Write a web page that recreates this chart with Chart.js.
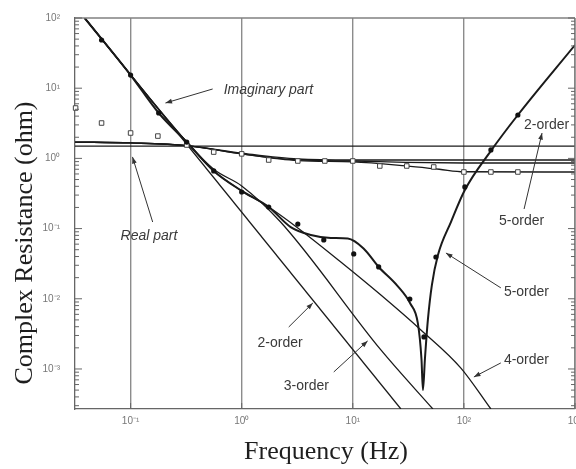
<!DOCTYPE html>
<html>
<head>
<meta charset="utf-8">
<script src="https://cdn.jsdelivr.net/npm/chart.js@4.4.1/dist/chart.umd.min.js"></script>
<style>body{margin:0;background:#fff}</style>
</head>
<body>
<canvas id="c" width="576" height="469"></canvas>
<script>
// axis ranges (log scales)
const xMin = 0.0316, xMax = 1000;
const yMin = 2.69e-4, yMax = 100;
const xTicks = [0.1, 1, 10, 100, 1000];
const yTicks = [1e-3, 1e-2, 1e-1, 1, 10, 100];

// measured imaginary part (dots)
const imagFreq = [0.0548, 0.1, 0.179, 0.320, 0.560, 1.0, 1.75, 3.20, 5.48, 10.2, 17.1, 32.6, 43.7, 56.0, 102, 175, 306];
const imagMeas = [48.6, 15.4, 4.43, 1.71, 0.662, 0.332, 0.203, 0.116, 0.0689, 0.0435, 0.0284, 0.00993, 0.00286, 0.0394, 0.392, 1.32, 4.15];

// measured real part (squares)
const realFreq = [0.032, 0.0548, 0.1, 0.176, 0.320, 0.560, 1.0, 1.75, 3.20, 5.6, 10, 17.5, 30.6, 53.5, 100, 175, 306];
const realMeas = [5.22, 3.19, 2.30, 2.08, 1.55, 1.23, 1.16, 0.948, 0.918, 0.918, 0.918, 0.779, 0.779, 0.754, 0.640, 0.640, 0.640];

// fitted real part
const re2Freq = [0.0316, 1000];
const re2 = [1.50, 1.50];
const re3Freq = [0.0316, 0.1, 0.32, 1.0, 3.2, 10, 1000];
const re3 = [1.71, 1.66, 1.52, 1.19, 0.98, 0.948, 0.948];
const re4Freq = [0.0316, 0.1, 0.32, 1.0, 3.2, 10, 30, 100, 1000];
const re4 = [1.71, 1.66, 1.52, 1.16, 0.95, 0.918, 0.875, 0.86, 0.86];
const re5Freq = [0.0316, 0.1, 0.32, 1.0, 3.2, 10, 30, 60, 100, 1000];
const re5 = [1.71, 1.66, 1.52, 1.16, 0.93, 0.89, 0.78, 0.70, 0.645, 0.64];

// fitted imaginary part
const im2Freq = [0.0386, 27.1];
const im2 = [100, 0.000269];
const im3Freq = [0.0386, 0.320, 0.56, 1.0, 2.24, 17.9, 52.6];
const im3 = [100, 1.71, 0.70, 0.405, 0.124, 0.00187, 0.000269];
const im4Freq = [0.0386, 0.320, 0.56, 1.0, 1.75, 3.2, 7.8, 17.9, 41.0, 94, 175];
const im4 = [100, 1.71, 0.662, 0.345, 0.203, 0.102, 0.0334, 0.0113, 0.0036, 0.00103, 0.000269];
const im5Freq = [0.0386, 0.1, 0.179, 0.32, 0.56, 1.0, 1.75, 2.76, 4.19, 6.34, 9.02, 12.5, 17.1, 25, 33, 38.5, 41.5, 42.8, 44.6, 47.4, 51.5, 58.4, 76.4, 102, 175, 306, 1000];
const im5 = [100, 15.4, 4.43, 1.71, 0.662, 0.345, 0.203, 0.105, 0.081, 0.0735, 0.0720, 0.052, 0.0284, 0.0155, 0.0085, 0.0045, 0.0014, 0.000502, 0.0014, 0.005, 0.0157, 0.0421, 0.124, 0.355, 1.28, 4.15, 41.2];

// annotation labels, anchored in data units
const labels = [
    {text: 'Imaginary part', x: 0.689, y: 9.42, italic: true},
    {text: 'Real part', x: 0.0813, y: 0.0785, italic: true},
    {text: '2-order', x: 1.39, y: 0.00234},
    {text: '3-order', x: 2.39, y: 0.000573},
    {text: '4-order', x: 229, y: 0.00134},
    {text: '5-order', x: 229, y: 0.0125},
    {text: '2-order', x: 348, y: 2.99},
    {text: '5-order', x: 207, y: 0.128}
];
const arrows = [
    [0.548, 9.74, 0.206, 6.15],
    [0.158, 0.124, 0.104, 1.05],
    [2.65, 0.00396, 4.37, 0.00871],
    [6.74, 0.000906, 13.6, 0.00251],
    [215, 0.00122, 123, 0.000769],
    [215, 0.0143, 68.9, 0.0449],
    [348, 0.190, 505, 2.30]
];

const pts = (xs, ys) => xs.map((x, i) => ({x: x, y: ys[i]}));
const sup = {'-': '\u207B', '0': '\u2070', '1': '\u00B9', '2': '\u00B2', '3': '\u00B3'};
const powLabel = v => '10' + String(Math.round(Math.log10(v))).split('').map(c => sup[c]).join('');

function fitLine(xs, ys, width, smooth) {
    return {
        data: pts(xs, ys),
        showLine: true,
        borderColor: '#1a1a1a',
        borderWidth: width,
        pointRadius: 0,
        cubicInterpolationMode: smooth ? 'monotone' : 'default',
        tension: 0
    };
}

const decor = {
    id: 'decor',
    afterDatasetsDraw(chart) {
        const {ctx, chartArea: a, scales: {x, y}} = chart;
        ctx.save();
        const seg = (x1, y1, x2, y2) => { ctx.beginPath(); ctx.moveTo(x1, y1); ctx.lineTo(x2, y2); ctx.stroke(); };
        // top / right frame
        ctx.strokeStyle = '#808080';
        ctx.lineWidth = 1.3;
        seg(a.left, a.top, a.right, a.top);
        seg(a.right, a.top, a.right, a.bottom);
        // inward y ticks, left and right
        ctx.strokeStyle = '#666';
        ctx.lineWidth = 1;
        for (let d = -4; d <= 2; d++) {
            for (let m = 1; m < 10; m++) {
                const v = m * Math.pow(10, d);
                if (v < yMin || v > yMax) continue;
                const py = y.getPixelForValue(v);
                const len = m === 1 ? 7 : 4;
                seg(a.left, py, a.left + len, py);
                seg(a.right, py, a.right - len, py);
            }
        }
        // x major ticks
        xTicks.forEach(v => {
            const px = x.getPixelForValue(v);
            seg(px, a.bottom, px, a.bottom - 6);
        });
        // arrows
        ctx.strokeStyle = '#333';
        ctx.fillStyle = '#333';
        ctx.lineWidth = 1;
        arrows.forEach(r => {
            const x1 = x.getPixelForValue(r[0]), y1 = y.getPixelForValue(r[1]);
            const x2 = x.getPixelForValue(r[2]), y2 = y.getPixelForValue(r[3]);
            seg(x1, y1, x2, y2);
            const ang = Math.atan2(y2 - y1, x2 - x1);
            ctx.beginPath();
            ctx.moveTo(x2, y2);
            ctx.lineTo(x2 - 7 * Math.cos(ang - 0.35), y2 - 7 * Math.sin(ang - 0.35));
            ctx.lineTo(x2 - 7 * Math.cos(ang + 0.35), y2 - 7 * Math.sin(ang + 0.35));
            ctx.closePath();
            ctx.fill();
        });
        // text labels
        ctx.fillStyle = '#3a3a3a';
        ctx.textAlign = 'left';
        ctx.textBaseline = 'middle';
        labels.forEach(l => {
            ctx.font = (l.italic ? 'italic ' : '') + '14px "Liberation Sans", Arial, sans-serif';
            ctx.fillText(l.text, x.getPixelForValue(l.x), y.getPixelForValue(l.y));
        });
        ctx.restore();
    },
    afterDraw(chart) {
        const ctx = chart.ctx;
        ctx.save();
        ctx.fillStyle = '#1e1e1e';
        ctx.textAlign = 'center';
        ctx.textBaseline = 'middle';
        ctx.font = '26px "Liberation Serif", "Times New Roman", serif';
        ctx.fillText('Frequency (Hz)', 326, 452);
        ctx.translate(25, 243);
        ctx.rotate(-Math.PI / 2);
        ctx.font = '26px "Liberation Serif", "Times New Roman", serif';
        ctx.fillText('Complex Resistance (ohm)', 0, 0);
        ctx.restore();
    }
};

new Chart(document.getElementById('c').getContext('2d'), {
    type: 'scatter',
    data: {
        datasets: [
            {
                data: pts(imagFreq, imagMeas),
                pointStyle: 'circle',
                pointRadius: 2.6,
                backgroundColor: '#111',
                borderColor: '#111',
                borderWidth: 0
            },
            {
                data: pts(realFreq, realMeas),
                pointStyle: 'rect',
                pointRadius: 3.2,
                backgroundColor: '#fff',
                borderColor: '#444',
                borderWidth: 1,
                clip: false
            },
            fitLine(im5Freq, im5, 2, true),
            fitLine(im4Freq, im4, 1.3, true),
            fitLine(im3Freq, im3, 1.3, true),
            fitLine(im2Freq, im2, 1.3, false),
            fitLine(re5Freq, re5, 1.3, true),
            fitLine(re4Freq, re4, 1.3, true),
            fitLine(re3Freq, re3, 1.3, true),
            fitLine(re2Freq, re2, 1.3, false)
        ]
    },
    options: {
        responsive: false,
        animation: false,
        layout: {autoPadding: false, padding: {top: 18, right: 1, left: 0, bottom: 0}},
        plugins: {legend: {display: false}, tooltip: {enabled: false}},
        scales: {
            x: {
                type: 'logarithmic',
                min: xMin,
                max: xMax,
                afterBuildTicks: s => { s.ticks = xTicks.map(v => ({value: v})); },
                afterFit: s => { s.height = 60; s.paddingLeft = 0; s.paddingRight = 0; },
                grid: {color: '#8c8c8c', lineWidth: 1.4, drawTicks: false},
                border: {display: true, color: '#666', width: 1.3},
                ticks: {
                    callback: v => powLabel(v),
                    color: '#777',
                    font: {family: '"Liberation Sans", Arial, sans-serif', size: 10},
                    padding: 6,
                    maxRotation: 0,
                    autoSkip: false
                }
            },
            y: {
                type: 'logarithmic',
                min: yMin,
                max: yMax,
                afterBuildTicks: s => { s.ticks = yTicks.map(v => ({value: v})); },
                afterFit: s => { s.width = 75; s.paddingTop = 0; s.paddingBottom = 0; },
                grid: {display: false},
                border: {display: true, color: '#666', width: 1.3},
                ticks: {
                    callback: v => powLabel(v),
                    color: '#777',
                    font: {family: '"Liberation Sans", Arial, sans-serif', size: 10},
                    padding: 7,
                    autoSkip: false
                }
            }
        }
    },
    plugins: [decor]
});
</script>
</body>
</html>
